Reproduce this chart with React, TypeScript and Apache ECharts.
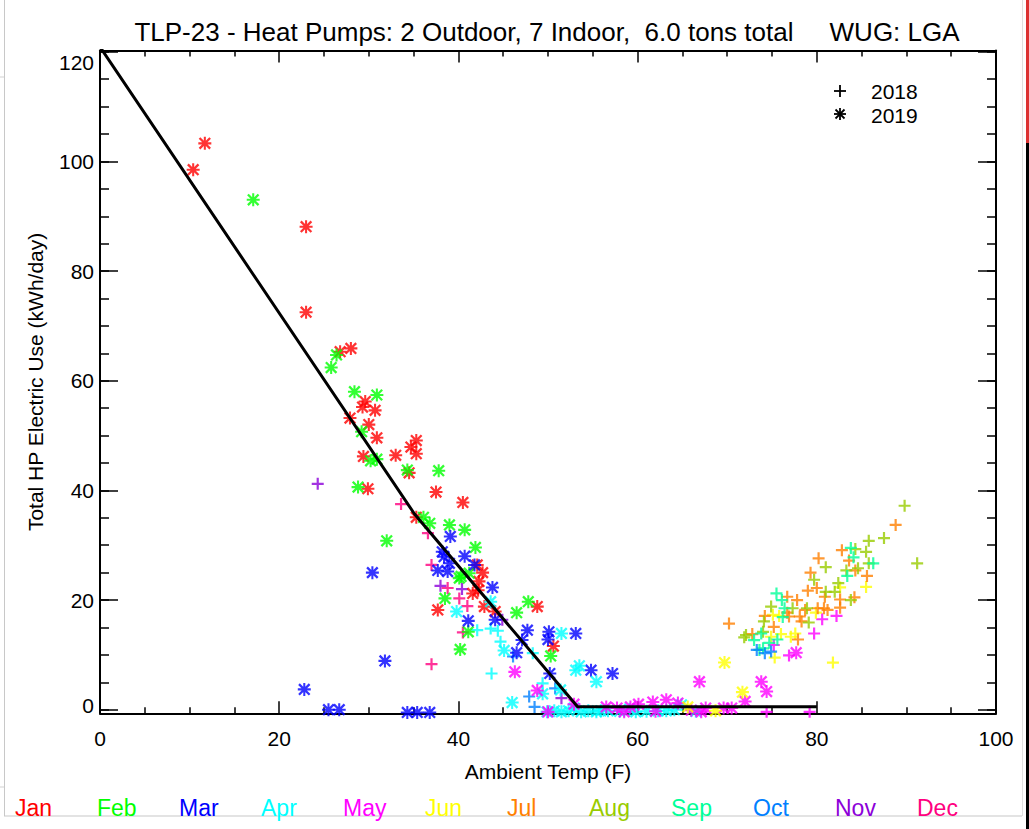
import React, { useEffect, useRef } from "react";
import * as echarts from "echarts";

// ---------- data (Ambient Temp F, kWh/day) ----------
const monthNames = ["Jan", "Feb", "Mar", "Apr", "May", "Jun", "Jul", "Aug", "Sep", "Oct", "Nov", "Dec"];
const monthColors = ["#ff0000", "#00ff00", "#0000ff", "#00ffff", "#ff00ff", "#ffff00", "#ff8000", "#99cc00", "#00ff99", "#0080ff", "#8c00d9", "#ff0080"];

const xTicks = [0, 20, 40, 60, 80, 100];
const yMajorTicks = [0, 20, 40, 60, 80, 100, 120];
const yMinorTicks = [0, 5, 10, 15, 20, 25, 30, 35, 40, 45, 50, 55, 60, 65, 70, 75, 80, 85, 90, 95, 100, 105, 110, 115, 120];

// 2019 (asterisk)
const jan2019 = [[10.4, 98.5], [11.7, 103.3], [23.0, 88.1], [23.0, 72.5], [26.8, 65.3], [28.0, 65.9], [29.6, 56.2], [29.3, 55.2], [30.7, 54.6], [27.9, 53.2], [30.0, 52.0], [30.9, 49.6], [35.3, 49.1], [34.7, 47.9], [35.3, 46.7], [29.4, 46.2], [33.0, 46.4], [34.5, 43.2], [29.9, 40.3], [37.5, 39.7], [40.5, 37.8], [35.3, 35.1], [42.1, 26.4], [42.7, 25.0], [42.3, 23.4], [41.6, 21.2], [42.2, 21.8], [37.7, 18.2], [42.9, 18.8], [44.1, 17.9], [48.8, 18.8], [50.6, 11.6]];
const feb2019 = [[17.1, 93.0], [26.4, 64.7], [25.8, 62.4], [28.4, 58.0], [30.9, 57.4], [29.2, 50.7], [30.2, 45.4], [30.9, 45.7], [34.3, 43.7], [37.8, 43.6], [28.8, 40.6], [36.1, 35.1], [36.8, 34.0], [39.0, 33.7], [40.7, 32.8], [32.0, 30.8], [41.9, 29.6], [40.3, 24.3], [41.2, 24.9], [40.1, 24.0], [38.5, 20.3], [47.8, 19.7], [46.5, 17.7], [41.1, 14.2], [50.3, 9.8], [40.2, 11.0]];
const mar2019 = [[39.1, 31.6], [38.2, 28.8], [38.4, 27.9], [40.7, 28.0], [39.0, 26.7], [37.7, 25.4], [38.8, 25.2], [30.4, 25.0], [41.8, 26.4], [43.8, 22.3], [41.1, 16.2], [44.1, 16.4], [47.7, 14.5], [47.1, 12.7], [50.1, 14.2], [50.0, 12.8], [53.1, 13.9], [46.5, 10.4], [31.8, 8.9], [50.2, 6.6], [54.8, 7.2], [57.2, 6.6], [22.8, 3.7], [25.5, 0.0], [26.7, 0.0], [34.3, -0.5], [35.4, -0.5], [36.8, -0.5]];
const apr2019 = [[39.8, 17.9], [43.6, 19.7], [51.5, 13.9], [45.1, 10.8], [53.1, 7.2], [53.5, 8.0], [55.4, 5.1], [49.4, 2.9], [51.4, 3.6], [46.0, 1.3], [49.9, -0.4], [50.7, -0.2], [51.5, -0.4], [52.3, -0.2], [52.9, 0.3], [53.7, -0.4], [54.5, -0.2], [55.4, -0.4], [55.9, -0.2], [56.7, -0.2], [58.0, -0.3], [59.1, 0.1], [59.8, -0.4], [61.0, -0.3], [62.3, -0.2], [63.2, -0.2], [64.1, 0.0], [64.9, 0.9], [66.5, -0.3]];
const may2019 = [[46.3, 6.9], [48.8, 3.5], [66.9, 5.1], [73.8, 5.1], [74.4, 3.3], [72.0, 1.5], [77.7, 10.4], [50.0, -0.4], [52.9, 1.0], [56.5, 0.5], [57.7, 0.3], [58.5, -0.4], [59.2, 0.5], [60.1, 1.0], [61.7, 1.4], [62.0, -0.3], [63.2, 1.8], [64.5, 1.2], [66.0, -0.1], [67.1, -0.4], [67.6, 0.3], [69.6, 0.3], [70.5, 0.3]];
const jun2019 = [[69.7, 8.6], [71.7, 3.2], [65.6, 0.5], [68.7, -0.2]];

// 2018 (plus)
const apr2018 = [[42.1, 14.5], [43.6, 14.8], [44.4, 14.4], [44.7, 12.4], [48.3, 10.3], [43.7, 6.6], [49.4, 4.8]];
const may2018 = [[82.2, 17.1], [80.6, 16.5], [79.7, 13.9], [75.2, 11.8], [76.9, 9.9], [74.4, -0.4], [79.2, -0.4]];
const jun2018 = [[82.6, 22.3], [85.5, 22.4], [75.8, 17.1], [75.1, 17.3], [79.9, 17.7], [74.9, 13.3], [76.0, 13.8], [77.1, 13.3], [77.6, 13.9], [75.3, 9.5], [81.8, 8.6]];
const jul2018 = [[88.8, 33.7], [82.8, 29.1], [83.6, 27.2], [80.2, 27.6], [84.3, 25.4], [85.6, 24.4], [79.3, 25.0], [79.0, 21.7], [80.0, 22.2], [80.9, 20.6], [82.6, 20.1], [84.2, 20.5], [82.6, 18.6], [76.7, 20.6], [77.8, 20.0], [74.2, 17.1], [76.7, 17.7], [76.9, 17.0], [78.1, 17.0], [78.7, 18.2], [80.1, 18.5], [80.8, 18.5], [81.2, 18.2], [78.3, 16.1], [70.2, 15.7], [75.2, 15.1], [77.9, 12.8], [72.8, 13.8]];
const aug2018 = [[89.8, 37.2], [87.5, 31.3], [85.8, 30.8], [85.5, 28.8], [84.3, 29.3], [85.8, 26.7], [91.2, 26.7], [81.0, 26.0], [83.3, 25.4], [84.6, 25.8], [79.7, 23.7], [82.4, 23.1], [81.0, 21.5], [82.0, 21.5], [83.8, 20.0], [74.9, 18.8], [77.3, 18.5], [78.9, 18.5], [79.1, 15.9], [74.1, 16.1], [74.0, 14.2], [72.1, 13.6], [71.9, 13.2]];
const sep2018 = [[83.8, 29.5], [84.1, 27.8], [86.3, 26.7], [83.4, 24.4], [75.5, 21.2], [76.1, 20.0], [76.4, 18.5], [76.2, 16.9], [75.6, 12.8], [73.0, 12.7], [73.8, 13.9], [74.7, 12.2], [73.6, 10.9], [74.0, 11.2]];
const oct2018 = [[46.1, 9.7], [50.8, 3.9], [47.9, 2.4], [48.5, 0.5], [73.3, 10.9], [74.2, 10.3], [74.9, 10.6]];
const nov2018 = [[24.3, 41.2], [38.0, 22.6], [40.4, 22.0], [44.9, 16.4], [51.5, 2.1]];
const dec2018 = [[33.6, 37.5], [36.6, 32.2], [37.0, 26.4], [38.8, 22.2], [40.1, 20.3], [41.0, 18.9], [40.5, 14.1], [37.0, 8.3]];

// fitted model line
const fitLine = [[0, 120.9], [35.1, 35.7], [53.3, 0.55], [80, 0.55]];

const titleText = "TLP-23 - Heat Pumps: 2 Outdoor, 7 Indoor,  6.0 tons total     WUG: LGA";

// ---------- helpers ----------
const PLUS = "path://M4.9,0H7.1V12H4.9Z M0,4.9H12V7.1H0Z";
const STAR = "path://M5.05,0H6.95V12H5.05Z M0,5.05H12V6.95H0Z M0.35,1.85L1.85,0.35L11.65,10.15L10.15,11.65Z M10.15,0.35L11.65,1.85L1.85,11.65L0.35,10.15Z";
const FONT = "'Liberation Sans', Arial, sans-serif";
const Y_MIN = -0.66;
const Y_MAX = 120.24;

const colored = (pts: number[][], m: number) => pts.map((p) => ({ value: p, itemStyle: { color: monthColors[m] } }));

export default function App() {
  const ref = useRef<HTMLDivElement>(null);
  useEffect(() => {
    document.body.style.margin = "0";
    const chart = echarts.init(ref.current!, null, { renderer: "svg" });

    const data2018 = [
      ...colored(apr2018, 3), ...colored(may2018, 4), ...colored(jun2018, 5), ...colored(jul2018, 6),
      ...colored(aug2018, 7), ...colored(sep2018, 8), ...colored(oct2018, 9), ...colored(nov2018, 10), ...colored(dec2018, 11),
    ];
    const data2019 = [
      ...colored(jan2019, 0), ...colored(feb2019, 1), ...colored(mar2019, 2), ...colored(apr2019, 3),
      ...colored(may2019, 4), ...colored(jun2019, 5),
    ];

    const tickStyle = { color: "#000", width: 1.5 };
    const axisLineStyle = { color: "#000", width: 2 };
    const labelStyle = { color: "#000", fontSize: 21, fontFamily: FONT };

    const xBase = (pos: string, labels: boolean) => ({
      type: "value",
      position: pos,
      min: 0,
      max: 100,
      interval: 20,
      axisLine: { show: true, onZero: false, lineStyle: axisLineStyle },
      axisTick: { show: true, inside: true, length: 12, lineStyle: tickStyle },
      minorTick: { show: true, splitNumber: 4, length: 6, lineStyle: tickStyle },
      axisLabel: labels ? { show: true, ...labelStyle, margin: 15, customValues: xTicks } : { show: false },
      splitLine: { show: false },
      minorSplitLine: { show: false },
    });

    const yBase = (pos: string, major: boolean, labels: boolean) => ({
      type: "value",
      position: pos,
      min: Y_MIN,
      max: Y_MAX,
      axisLine: { show: major, onZero: false, lineStyle: axisLineStyle },
      axisTick: { show: true, inside: true, length: major ? 18 : 9, lineStyle: tickStyle, customValues: major ? yMajorTicks : yMinorTicks },
      axisLabel: labels
        ? {
            show: true,
            ...labelStyle,
            margin: 6,
            customValues: yMajorTicks,
            formatter: (v: number) => (v === 120 ? `{top|${v}}` : v === 0 ? `{bot|${v}}` : `${v}`),
            rich: {
              top: { ...labelStyle, padding: [22, 0, 0, 0] },
              bot: { ...labelStyle, padding: [0, 0, 8, 0] },
            },
          }
        : { show: false },
      splitLine: { show: false },
    });

    const graphic: any[] = [
      // page edge artifacts
      { type: "rect", shape: { x: 4, y: 0, width: 1, height: 816 }, style: { fill: "#c8c8c8" }, silent: true },
      { type: "rect", shape: { x: 0, y: 76.5, width: 4, height: 1 }, style: { fill: "#d0d0d0" }, silent: true },
      { type: "rect", shape: { x: 0, y: 786.5, width: 4, height: 1 }, style: { fill: "#d0d0d0" }, silent: true },
      { type: "rect", shape: { x: 4, y: 815.5, width: 1018, height: 1 }, style: { fill: "#c8c8c8" }, silent: true },
      { type: "rect", shape: { x: 1022, y: 0, width: 1, height: 816 }, style: { fill: "#e0e0e0" }, silent: true },
      { type: "rect", shape: { x: 1026, y: 0, width: 3, height: 143 }, style: { fill: "#dc3232" }, silent: true },
      { type: "rect", shape: { x: 1026, y: 143, width: 3, height: 686 }, style: { fill: "#000" }, silent: true },
      // title
      { type: "text", x: 547, y: 32, style: { text: titleText, fontSize: 26, fontFamily: FONT, fill: "#000", align: "center", verticalAlign: "middle" } },
      // legend
      { type: "line", shape: { x1: 834, y1: 91, x2: 846, y2: 91 }, style: { stroke: "#000", lineWidth: 1.8 } },
      { type: "line", shape: { x1: 840, y1: 85, x2: 840, y2: 97 }, style: { stroke: "#000", lineWidth: 1.8 } },
      { type: "line", shape: { x1: 840, y1: 108, x2: 840, y2: 120 }, style: { stroke: "#000", lineWidth: 1.8 } },
      { type: "line", shape: { x1: 834, y1: 114, x2: 846, y2: 114 }, style: { stroke: "#000", lineWidth: 1.8 } },
      { type: "line", shape: { x1: 835.5, y1: 109.5, x2: 844.5, y2: 118.5 }, style: { stroke: "#000", lineWidth: 1.8 } },
      { type: "line", shape: { x1: 844.5, y1: 109.5, x2: 835.5, y2: 118.5 }, style: { stroke: "#000", lineWidth: 1.8 } },
      { type: "text", x: 871, y: 91, style: { text: "2018", fontSize: 21, fontFamily: FONT, fill: "#000", align: "left", verticalAlign: "middle" } },
      { type: "text", x: 871, y: 115, style: { text: "2019", fontSize: 21, fontFamily: FONT, fill: "#000", align: "left", verticalAlign: "middle" } },
      // months
      ...monthNames.map((m, i) => ({
        type: "text",
        x: 15 + 82 * i,
        y: 808,
        style: { text: m, fontSize: 23, fontFamily: FONT, fill: monthColors[i], align: "left", verticalAlign: "middle" },
      })),
    ];

    chart.setOption({
      animation: false,
      backgroundColor: "#fff",
      grid: { left: 100, right: 33, top: 50.5, bottom: 115.7, containLabel: false },
      xAxis: [
        {
          ...xBase("bottom", true),
          name: "Ambient Temp (F)",
          nameLocation: "middle",
          nameGap: 48,
          nameTextStyle: { color: "#000", fontSize: 21, fontFamily: FONT },
        },
        xBase("top", false),
      ],
      yAxis: [
        {
          ...yBase("left", true, true),
          name: "Total HP Electric Use (kWh/day)",
          nameLocation: "middle",
          nameGap: 54,
          nameTextStyle: { color: "#000", fontSize: 21, fontFamily: FONT },
        },
        yBase("left", false, false),
        yBase("right", true, false),
        yBase("right", false, false),
      ],
      graphic,
      series: [
        {
          name: "2018",
          type: "scatter",
          symbol: PLUS,
          symbolSize: 12,
          data: data2018,
          z: 2,
        },
        {
          name: "2019",
          type: "scatter",
          symbol: STAR,
          symbolSize: 13,
          data: data2019,
          z: 3,
        },
        {
          name: "fit",
          type: "line",
          data: fitLine,
          symbol: "none",
          lineStyle: { color: "#000", width: 3 },
          clip: true,
          z: 5,
        },
      ],
    });
    return () => chart.dispose();
  }, []);
  return <div ref={ref} style={{ width: 1029, height: 829 }} />;
}
